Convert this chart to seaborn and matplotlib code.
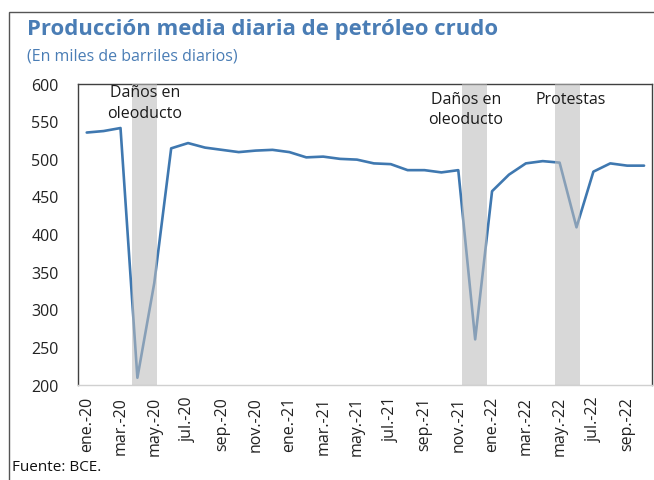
import matplotlib
matplotlib.use("Agg")
import matplotlib.pyplot as plt
import seaborn as sns
import pandas as pd
import numpy as np
from matplotlib.patches import Rectangle

months = ["ene.-20","feb.-20","mar.-20","abr.-20","may.-20","jun.-20","jul.-20","ago.-20","sep.-20","oct.-20","nov.-20","dic.-20",
          "ene.-21","feb.-21","mar.-21","abr.-21","may.-21","jun.-21","jul.-21","ago.-21","sep.-21","oct.-21","nov.-21","dic.-21",
          "ene.-22","feb.-22","mar.-22","abr.-22","may.-22","jun.-22","jul.-22","ago.-22","sep.-22","oct.-22"]
produccion = [535, 537, 541, 209, 335, 514, 521, 515, 512, 509, 511, 512,
              509, 502, 503, 500, 499, 494, 493, 485, 485, 482, 485, 260,
              457, 479, 494, 497, 495, 409, 483, 494, 491, 491]
bands = [(2.66, 4.14), (22.25, 23.73), (27.7, 29.2)]
band_labels = ["Daños en\noleoducto", "Daños en\noleoducto", "Protestas"]
label_x = [3.45, 22.45, 28.65]
label_y = [599, 590, 590]

df = pd.DataFrame({"idx": np.arange(len(months)), "mes": months, "valor": produccion})

sns.set_theme(style="white")
plt.rcParams['font.family'] = ['Open Sans', 'DejaVu Sans']

fig = plt.figure(figsize=(6.54, 4.81), dpi=100)
ax = fig.add_axes([0.1197, 0.1985, 0.8780, 0.6255])

line_color = "#3f78b0"
sns.lineplot(data=df, x="idx", y="valor", ax=ax, color=line_color, linewidth=1.9, zorder=2)

for (a, b) in bands:
    ax.axvspan(a, b, color="#bdbdbd", alpha=0.58, lw=0, zorder=3)

for lab, x, y in zip(band_labels, label_x, label_y):
    ax.text(x, y, lab, ha="center", va="top", fontsize=11.5, color="#1a1a1a",
            linespacing=1.35, zorder=5)

ax.set_xlim(-0.5, len(months) - 0.5)
ax.set_ylim(200, 600)
ax.set_yticks(np.arange(200, 601, 50))
ax.tick_params(axis="y", length=0, pad=14, labelsize=11.5, labelcolor="#222222")

# category boundaries as tick marks, labels on every 2nd category
ax.set_xticks(np.arange(-0.5, len(months), 2))
ax.set_xticklabels([])
ax.tick_params(axis="x", which="major", length=5, width=0.8, color="#bfbfbf", direction="out")
ax.set_xticks(np.arange(0, len(months), 2), minor=True)
ax.set_xticklabels(months[::2], minor=True, rotation=90, fontsize=11.5, color="#222222")
ax.tick_params(axis="x", which="minor", length=0, pad=8)
ax.set_xlabel("")
ax.set_ylabel("")

for s in ["left", "top", "right"]:
    ax.spines[s].set_color("#404040")
    ax.spines[s].set_linewidth(1.0)
ax.spines["bottom"].set_color("#d0d0d0")
ax.spines["bottom"].set_linewidth(1.0)

fig.text(27/654, 1 - 30/481, "Producción media diaria de petróleo crudo", fontsize=15.9,
         fontweight="bold", color="#4a7db5", va="center", ha="left")
fig.text(27/654, 1 - 57/481, "(En miles de barriles diarios)", fontsize=11.5,
         color="#4a7db5", va="center", ha="left")
fig.text(12/654, 1 - 468/481, "Fuente: BCE.", fontsize=11, color="#111111", va="center", ha="left")

fig.patches.append(Rectangle((9/654, -0.1), 1.2, 1 - 12.5/481 + 0.1, transform=fig.transFigure,
                             fill=False, edgecolor="#555555", linewidth=1.0))

fig.savefig("out.png", dpi=100)
